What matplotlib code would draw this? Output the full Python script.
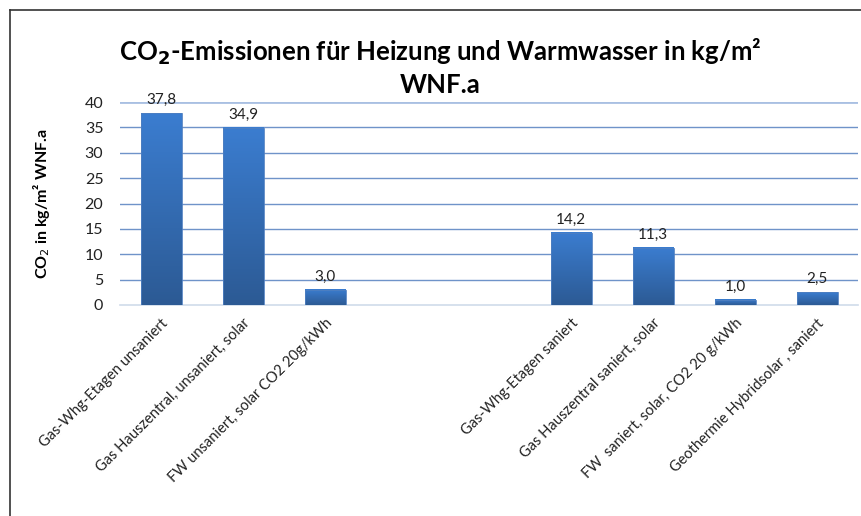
import numpy as np
import matplotlib
matplotlib.use("Agg")
import matplotlib.pyplot as plt
from matplotlib.lines import Line2D
from matplotlib.colors import LinearSegmentedColormap

categories = ["Gas-Whg-Etagen unsaniert", "Gas Hauszentral, unsaniert, solar",
              "FW unsaniert, solar CO2 20g/kWh", "", "",
              "Gas-Whg-Etagen saniert", "Gas Hauszentral saniert, solar",
              "FW  saniert, solar, CO2 20 g/kWh", "Geothermie Hybridsolar , saniert"]
values = [37.8, 34.9, 3.0, np.nan, np.nan, 14.2, 11.3, 1.0, 2.5]
yticks = [0, 5, 10, 15, 20, 25, 30, 35, 40]

plt.rcParams['font.family'] = ['Lato', 'DejaVu Sans']

fig = plt.figure(figsize=(8.62, 5.16), dpi=100)
ax = fig.add_axes([120/862, 1-305/516, (858-120)/862, 203/516])

x = np.arange(len(categories))
bars = ax.bar(x, np.nan_to_num(values), width=0.5, color='none', zorder=3)
cmap = LinearSegmentedColormap.from_list('g', ['#2C5A94', '#3B7DD0'])
grad = np.linspace(0, 1, 256).reshape(-1, 1)
for b, v in zip(bars, values):
    if np.isnan(v):
        continue
    bx, by, bw, bh = b.get_x(), b.get_y(), b.get_width(), b.get_height()
    im = ax.imshow(grad, cmap=cmap, origin='lower', aspect='auto',
                   extent=[bx, bx + bw, by, by + bh], zorder=3)
    ax.add_patch(plt.Rectangle((bx, by), bw, bh, fill=False, edgecolor='#4F7FC0', lw=0.6, zorder=4))
    ax.text(bx + bw/2, by + bh + 1.2, f"{v:.1f}".replace('.', ','), ha='center', va='bottom',
            fontsize=11, color='#222222', zorder=5)

ax.set_xlim(-0.5, len(categories) - 0.5)
ax.set_ylim(0, 40)
ax.set_yticks(yticks)
ax.tick_params(axis='y', length=0, labelsize=11.5, pad=12, colors='#222222')
ax.set_xticks(x)
ax.set_xticklabels(categories, rotation=45, ha='right', va='top', rotation_mode='anchor',
                   fontsize=10.5, color='#222222')
ax.tick_params(axis='x', length=0, pad=8)
for t in yticks[1:-1]:
    ax.axhline(t, color='#6F93C9', lw=1.0, zorder=1)
ax.axhline(40, color='#A9C0E2', lw=2.0, zorder=1)
for s in ['top', 'right', 'left']:
    ax.spines[s].set_visible(False)
ax.spines['bottom'].set_color('#D0DBEA')
ax.spines['bottom'].set_linewidth(1.2)

ax.set_ylabel("CO$_2$ in kg/m² WNF.a", fontsize=11.5, fontweight='bold')
ax.yaxis.set_label_coords(-68/738, 0.5)

fig.text(440/862, 1-52/516, "CO$_\\mathbf{2}$-Emissionen für Heizung und Warmwasser in kg/m²",
         ha='center', va='center', fontsize=18.5, fontweight='bold')
fig.text(440/862, 1-85/516, "WNF.a", ha='center', va='center', fontsize=18.5, fontweight='bold')

fig.add_artist(Line2D([10/862, 1], [1-10/516, 1-10/516], color='#333333', lw=1.2))
fig.add_artist(Line2D([10/862, 10/862], [0, 1-10/516], color='#333333', lw=1.2))

fig.savefig("out.png", dpi=100)
